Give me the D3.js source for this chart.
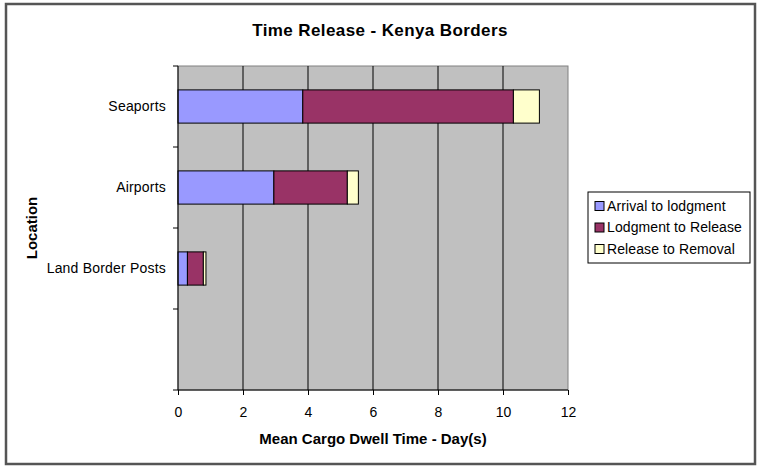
<!DOCTYPE html>
<html>
<head>
<meta charset="utf-8">
<script src="https://cdn.jsdelivr.net/npm/d3@7"></script>
<style>
    body { margin: 0; background: #fff; }
    svg { display: block; font-family: "Liberation Sans", Arial, sans-serif; }
</style>
</head>
<body>
<svg width="772" height="476"></svg>
<script>
// data
var locations = ["Seaports", "Airports", "Land Border Posts", ""];
var arrivalToLodgment = [3.84, 2.95, 0.29, 0];
var lodgmentToRelease = [6.48, 2.26, 0.49, 0];
var releaseToRemoval = [0.8, 0.34, 0.08, 0];
var seriesNames = ["Arrival to lodgment", "Lodgment to Release", "Release to Removal"];
var seriesColors = ["#9999ff", "#993366", "#ffffcc"];
var xTicks = [0, 2, 4, 6, 8, 10, 12];

window.onload = main;

function main() {
    var svg = d3.select("svg");

    // outer chart border
    svg.append("rect")
        .attr("x", 6).attr("y", 4)
        .attr("width", 749).attr("height", 460)
        .attr("fill", "#fff")
        .attr("stroke", "#555")
        .attr("stroke-width", 2.5);

    var pLeft = 178, pRight = 568, pTop = 66, pBottom = 390;

    var x = d3.scaleLinear().domain([0, 12]).range([pLeft, pRight]);
    var y = d3.scaleBand().domain(locations).range([pTop, pBottom]).padding(0);

    // plot background
    svg.append("rect")
        .attr("x", pLeft).attr("y", pTop)
        .attr("width", pRight - pLeft).attr("height", pBottom - pTop)
        .attr("fill", "#c0c0c0")
        .attr("stroke", "#808080");

    // vertical gridlines
    svg.selectAll("line.grid")
        .data(xTicks.slice(1, -1))
        .enter()
        .append("line")
        .attr("class", "grid")
        .attr("x1", d => x(d)).attr("x2", d => x(d))
        .attr("y1", pTop).attr("y2", pBottom)
        .attr("stroke", "#000");

    // stacked bars
    var rows = locations.map((loc, i) => ({
        loc: loc,
        vals: [arrivalToLodgment[i], lodgmentToRelease[i], releaseToRemoval[i]]
    }));
    var barH = y.bandwidth() * 0.41;

    rows.forEach(function (r) {
        var start = 0;
        r.vals.forEach(function (v, j) {
            if (v > 0) {
                svg.append("rect")
                    .attr("x", x(start))
                    .attr("y", y(r.loc) + (y.bandwidth() - barH) / 2)
                    .attr("width", x(start + v) - x(start))
                    .attr("height", barH)
                    .attr("fill", seriesColors[j])
                    .attr("stroke", "#000")
                    .attr("stroke-width", 1);
            }
            start += v;
        });
    });

    // x axis
    var xAxis = d3.axisBottom(x).tickValues(xTicks).tickSize(5).tickPadding(12);
    var gx = svg.append("g")
        .attr("transform", "translate(0," + pBottom + ")")
        .call(xAxis);
    gx.select(".domain").attr("stroke", "#000").attr("d", "M" + pLeft + ",0H" + pRight);
    gx.selectAll("text").attr("font-size", 14).attr("fill", "#000")
        .attr("font-family", "Liberation Sans, Arial, sans-serif");

    // y axis (ticks at band boundaries, labels at centres)
    svg.append("line")
        .attr("x1", pLeft).attr("x2", pLeft)
        .attr("y1", pTop).attr("y2", pBottom)
        .attr("stroke", "#000");
    var bounds = locations.map(d => y(d)).concat([pBottom]);
    svg.selectAll("line.ytick")
        .data(bounds)
        .enter()
        .append("line")
        .attr("class", "ytick")
        .attr("x1", pLeft - 5).attr("x2", pLeft)
        .attr("y1", d => d).attr("y2", d => d)
        .attr("stroke", "#000");
    svg.selectAll("text.ylab")
        .data(locations)
        .enter()
        .append("text")
        .attr("class", "ylab")
        .attr("x", pLeft - 12)
        .attr("y", d => y(d) + y.bandwidth() / 2)
        .attr("dy", "0.35em")
        .attr("text-anchor", "end")
        .attr("font-size", 14)
        .attr("letter-spacing", 0.2)
        .text(d => d);

    // titles
    svg.append("text")
        .attr("x", 380).attr("y", 36)
        .attr("text-anchor", "middle")
        .attr("font-size", 17)
        .attr("font-weight", "bold")
        .attr("letter-spacing", 0.4)
        .text("Time Release - Kenya Borders");

    svg.append("text")
        .attr("x", (pLeft + pRight) / 2).attr("y", 444)
        .attr("text-anchor", "middle")
        .attr("font-size", 15)
        .attr("font-weight", "bold")
        .text("Mean Cargo Dwell Time - Day(s)");

    svg.append("text")
        .attr("transform", "translate(37," + (pTop + pBottom) / 2 + ") rotate(-90)")
        .attr("text-anchor", "middle")
        .attr("font-size", 15)
        .attr("font-weight", "bold")
        .text("Location");

    // legend
    var legend = svg.append("g").attr("transform", "translate(588,192)");
    legend.append("rect")
        .attr("width", 162).attr("height", 71)
        .attr("fill", "#fff")
        .attr("stroke", "#000");
    var item = legend.selectAll("g.item")
        .data(seriesNames)
        .enter()
        .append("g")
        .attr("class", "item")
        .attr("transform", (d, i) => "translate(7," + (14 + i * 21.5) + ")");
    item.append("rect")
        .attr("x", 0).attr("y", -4.5)
        .attr("width", 9).attr("height", 9)
        .attr("fill", (d, i) => seriesColors[i])
        .attr("stroke", "#000");
    item.append("text")
        .attr("x", 12)
        .attr("dy", "0.35em")
        .attr("font-size", 14)
        .attr("letter-spacing", 0.1)
        .text(d => d);
}
</script>
</body>
</html>
